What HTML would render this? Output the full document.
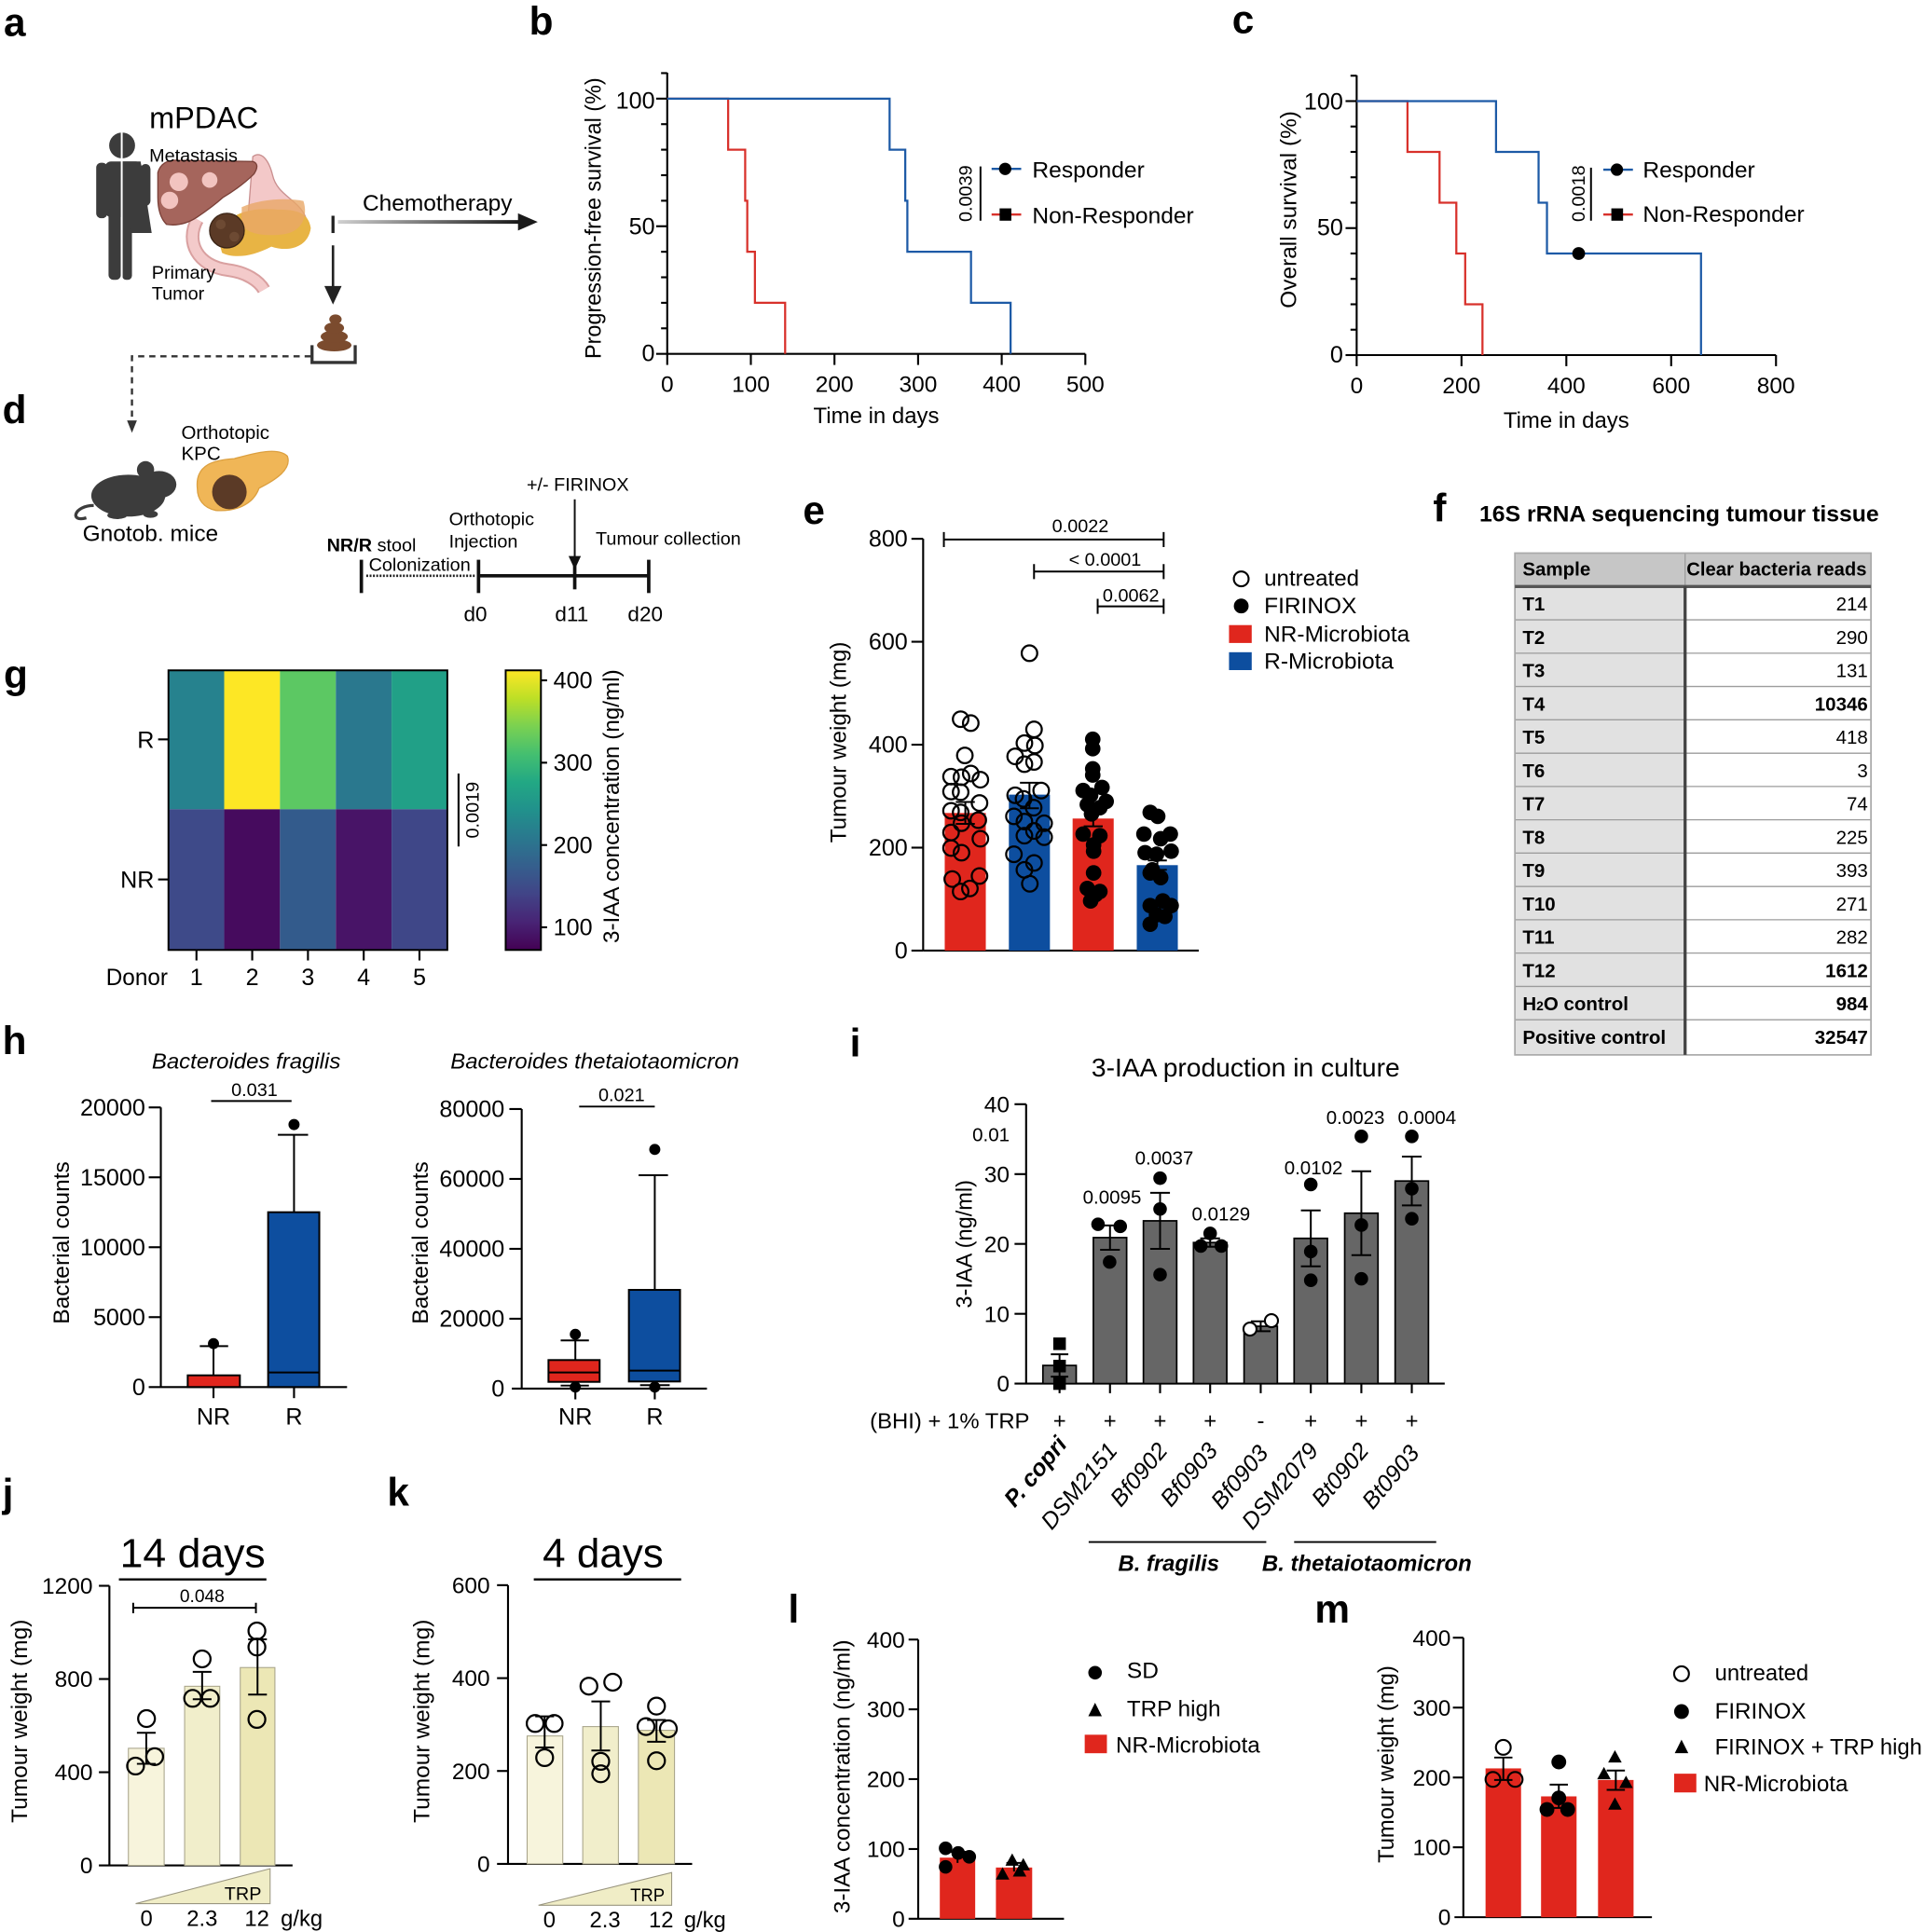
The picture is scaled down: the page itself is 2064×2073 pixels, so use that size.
<!DOCTYPE html>
<html><head><meta charset="utf-8">
<style>
html,body{margin:0;padding:0;background:#fff}
svg{display:block}
text{font-family:"Liberation Sans",Arial,sans-serif;fill:#000}
.lb{font-weight:bold;font-size:32px}
.t{font-size:18.5px}
.b{font-weight:bold}
.i{font-style:italic}
.ax{stroke:#000;stroke-width:1.6;fill:none}
.eb{stroke:#000;stroke-width:1.5;fill:none}
</style></head>
<body>
<svg width="2064" height="2073" viewBox="0 0 1560 1567" preserveAspectRatio="none" xmlns="http://www.w3.org/2000/svg">
<defs>
<linearGradient id="chemo" gradientUnits="userSpaceOnUse" x1="274" y1="0" x2="420" y2="0">
<stop offset="0" stop-color="#d0d0d0"/><stop offset="1" stop-color="#1a1a1a"/>
</linearGradient>
<linearGradient id="vir" x1="0" y1="1" x2="0" y2="0">
<stop offset="0" stop-color="#440154"/><stop offset="0.1" stop-color="#482475"/><stop offset="0.2" stop-color="#414487"/><stop offset="0.3" stop-color="#355f8d"/><stop offset="0.4" stop-color="#2a788e"/><stop offset="0.5" stop-color="#21918c"/><stop offset="0.6" stop-color="#22a884"/><stop offset="0.7" stop-color="#44bf70"/><stop offset="0.8" stop-color="#7ad151"/><stop offset="0.9" stop-color="#bddf26"/><stop offset="1" stop-color="#fde725"/>
</linearGradient>
</defs>
<rect width="1560" height="1567" fill="#fff"/>

<!-- Panel labels -->
<text class="lb" x="3" y="29">a</text>
<text class="lb" x="429" y="28">b</text>
<text class="lb" x="999" y="27">c</text>
<text class="lb" x="2" y="343">d</text>
<text class="lb" x="651" y="425">e</text>
<text class="lb" x="1162" y="423">f</text>
<text class="lb" x="3" y="558">g</text>
<text class="lb" x="2" y="855">h</text>
<text class="lb" x="689" y="857">i</text>
<text class="lb" x="2" y="1222">j</text>
<text class="lb" x="314" y="1221">k</text>
<text class="lb" x="639" y="1316">l</text>
<text class="lb" x="1066" y="1316">m</text>

<!-- ===== Panel a / d illustration ===== -->
<text x="121" y="104" font-size="24.5">mPDAC</text>
<g fill="#3c3c3c">
<circle cx="99" cy="118" r="10.5"/>
<rect x="78" y="132" width="9" height="45" rx="4"/>
<rect x="85" y="131" width="30" height="45" rx="5"/>
<polygon points="99,131 114,131 123,189 99,189"/>
<rect x="114" y="133" width="8" height="34" rx="4"/>
<rect x="88" y="168" width="10" height="59" rx="4"/>
<rect x="99" y="185" width="8" height="42" rx="3.5"/>
</g>
<line x1="98.7" y1="106" x2="98.7" y2="229" stroke="#fff" stroke-width="1.5"/>
<path d="M205,127 C212,122 218,130 221,142 C225,160 245,162 249,180 C251,194 240,198 225,194 L200,190 Z" fill="#f3c8c8" stroke="#c98f8f" stroke-width="1"/>
<path d="M160,178 C150,196 160,216 185,219 C200,221 210,228 214,235" fill="none" stroke="#d9a0a0" stroke-width="11"/>
<path d="M160,178 C150,196 160,216 185,219 C200,221 210,228 214,235" fill="none" stroke="#f3caca" stroke-width="8"/>
<path d="M128,140 Q131,129 145,130 L205,131 Q211,133 206,141 Q196,151 181,160 Q172,168 160,176 Q148,184 135,182 Q128,175 128,160 Z" fill="#a5655c" stroke="#7a4038" stroke-width="1"/>
<circle cx="145" cy="147.5" r="7.5" fill="#f2c4c0"/>
<circle cx="170" cy="146" r="6.3" fill="#f2c4c0"/>
<circle cx="137.5" cy="162.5" r="7" fill="#f2c4c0"/>
<path d="M176,190 C185,172 205,168 225,170 C240,170 250,172 252,185 C250,200 235,205 220,200 C205,208 190,210 180,205 Z" fill="#e8b444"/>
<path d="M196,168 C210,162 230,160 246,163 C250,175 245,188 230,190 C215,192 200,190 196,182 Z" fill="#e9a868" opacity="0.8"/>
<circle cx="184" cy="187" r="14" fill="#5b3a26" stroke="#3a2416" stroke-width="1"/>
<circle cx="179" cy="182" r="4" fill="#6d4a33"/>
<circle cx="190" cy="192" r="4" fill="#6d4a33"/>
<text x="121" y="131" font-size="15">Metastasis</text>
<text x="123" y="226" font-size="15">Primary</text>
<text x="123" y="243" font-size="15">Tumor</text>
<text x="294" y="171" font-size="18.5">Chemotherapy</text>
<rect x="274" y="178.5" width="148" height="3" fill="url(#chemo)"/>
<polygon points="420,173 436,180 420,187" fill="#1a1a1a"/>
<line x1="270" y1="175" x2="270" y2="189" stroke="#222" stroke-width="2.5"/>
<line x1="270" y1="199" x2="270" y2="234" stroke="#222" stroke-width="2"/>
<polygon points="263,232 277,232 270,247" fill="#222"/>
<g fill="#7b4b2e">
<ellipse cx="271" cy="280" rx="14" ry="5"/>
<ellipse cx="271" cy="273" rx="11" ry="5"/>
<ellipse cx="271" cy="266" rx="8" ry="4.5"/>
<ellipse cx="272" cy="259" rx="5" ry="4"/>
</g>
<path d="M253,280 V294 H288 V280" fill="none" stroke="#333" stroke-width="2.5"/>
<path d="M252,289 H107 V341" fill="none" stroke="#333" stroke-width="1.8" stroke-dasharray="5,4"/>
<polygon points="103,341 111,341 107,351" fill="#333"/>
<g fill="#3c3c3c">
<ellipse cx="104" cy="402" rx="30" ry="17"/>
<ellipse cx="129" cy="393" rx="14" ry="11"/>
<circle cx="118" cy="381" r="7"/>
<ellipse cx="95" cy="418" rx="8" ry="3"/>
<ellipse cx="122" cy="417" rx="6" ry="3"/>
</g>
<path d="M76,410 C60,410 56,424 70,420" fill="none" stroke="#3c3c3c" stroke-width="2.5"/>
<path d="M160,396 C158,376 175,373 190,372 C205,368 225,362 233,370 C237,381 222,390 210,396 C205,410 190,415 175,414 C165,412 160,405 160,396 Z" fill="#f0b657" stroke="#dca040" stroke-width="1"/>
<circle cx="186" cy="399" r="14" fill="#5b3a26"/>
<text x="147" y="356" font-size="15.5">Orthotopic</text>
<text x="147" y="373" font-size="15.5">KPC</text>
<text x="67" y="439" font-size="18.5">Gnotob. mice</text>
<text x="265" y="447" font-size="15"><tspan font-weight="bold">NR/R</tspan> stool</text>
<text x="299" y="463" font-size="15">Colonization</text>
<text x="364" y="426" font-size="15">Orthotopic</text>
<text x="364" y="444" font-size="15">Injection</text>
<text x="427" y="398" font-size="15">+/- FIRINOX</text>
<text x="483" y="442" font-size="15">Tumour collection</text>
<line x1="297" y1="467" x2="386" y2="467" stroke="#222" stroke-width="2" stroke-dasharray="1.5,1.2"/>
<line x1="388" y1="467" x2="526" y2="467" stroke="#111" stroke-width="2.8"/>
<g stroke="#111" stroke-width="2.8">
<line x1="293" y1="454" x2="293" y2="481"/>
<line x1="388" y1="454" x2="388" y2="481"/>
<line x1="466" y1="458" x2="466" y2="478"/>
<line x1="526" y1="454" x2="526" y2="481"/>
</g>
<line x1="466" y1="405" x2="466" y2="453" stroke="#111" stroke-width="1.5"/>
<polygon points="461,451 471,451 466,462" fill="#111"/>
<text x="376" y="504" font-size="17">d0</text>
<text x="450" y="504" font-size="17">d11</text>
<text x="509" y="504" font-size="17">d20</text>

<!-- ===== Panel b ===== -->
<g class="ax">
<line x1="541" y1="59" x2="541" y2="287"/>
<line x1="541" y1="287" x2="880" y2="287"/>
<line x1="532" y1="287" x2="541" y2="287"/>
<line x1="536" y1="266.3" x2="541" y2="266.3"/>
<line x1="536" y1="245.6" x2="541" y2="245.6"/>
<line x1="536" y1="224.9" x2="541" y2="224.9"/>
<line x1="536" y1="204.2" x2="541" y2="204.2"/>
<line x1="532" y1="183.5" x2="541" y2="183.5"/>
<line x1="536" y1="162.8" x2="541" y2="162.8"/>
<line x1="536" y1="142.1" x2="541" y2="142.1"/>
<line x1="536" y1="121.4" x2="541" y2="121.4"/>
<line x1="536" y1="100.7" x2="541" y2="100.7"/>
<line x1="532" y1="80" x2="541" y2="80"/>
<line x1="536" y1="59.3" x2="541" y2="59.3"/>
<line x1="541" y1="287" x2="541" y2="296"/>
<line x1="608.8" y1="287" x2="608.8" y2="296"/>
<line x1="676.6" y1="287" x2="676.6" y2="296"/>
<line x1="744.4" y1="287" x2="744.4" y2="296"/>
<line x1="812.2" y1="287" x2="812.2" y2="296"/>
<line x1="880" y1="287" x2="880" y2="296"/>
</g>
<g font-size="19" text-anchor="end">
<text x="531" y="88">100</text><text x="531" y="190">50</text><text x="531" y="293">0</text>
</g>
<g font-size="18.5" text-anchor="middle">
<text x="541" y="318">0</text><text x="608.8" y="318">100</text><text x="676.6" y="318">200</text><text x="744.4" y="318">300</text><text x="812.2" y="318">400</text><text x="880" y="318">500</text>
<text x="710.5" y="343" textLength="102" lengthAdjust="spacingAndGlyphs">Time in days</text>
<text transform="translate(487,177) rotate(-90)" textLength="228" lengthAdjust="spacingAndGlyphs">Progression-free survival (%)</text>
</g>
<path d="M541,80 H590.4 V121.4 H604.2 V162.8 H605.9 V204.2 H612.1 V245.6 H636.6 V287" fill="none" stroke="#d8312b" stroke-width="1.7"/>
<path d="M541,80 H721.3 V121.4 H734 V162.8 H735.7 V204.2 H787.3 V245.6 H819.4 V287" fill="none" stroke="#1d5aa6" stroke-width="1.7"/>
<text transform="translate(788,157) rotate(-90)" font-size="15" text-anchor="middle">0.0039</text>
<line x1="795" y1="135" x2="795" y2="179" stroke="#000" stroke-width="1.5"/>
<line x1="804" y1="137" x2="828" y2="137" stroke="#1d5aa6" stroke-width="1.8"/>
<circle cx="815" cy="137" r="5" fill="#000"/>
<line x1="804" y1="174" x2="828" y2="174" stroke="#d8312b" stroke-width="1.8"/>
<rect x="810.5" y="169" width="9.5" height="10" fill="#000"/>
<text class="t" x="837" y="144" textLength="91" lengthAdjust="spacingAndGlyphs">Responder</text>
<text class="t" x="837" y="181" textLength="131" lengthAdjust="spacingAndGlyphs">Non-Responder</text>

<!-- ===== Panel c ===== -->
<g class="ax">
<line x1="1100" y1="61" x2="1100" y2="288"/>
<line x1="1100" y1="288" x2="1440" y2="288"/>
<line x1="1091" y1="288" x2="1100" y2="288"/>
<line x1="1095" y1="267.4" x2="1100" y2="267.4"/>
<line x1="1095" y1="246.8" x2="1100" y2="246.8"/>
<line x1="1095" y1="226.2" x2="1100" y2="226.2"/>
<line x1="1095" y1="205.6" x2="1100" y2="205.6"/>
<line x1="1091" y1="185" x2="1100" y2="185"/>
<line x1="1095" y1="164.4" x2="1100" y2="164.4"/>
<line x1="1095" y1="143.8" x2="1100" y2="143.8"/>
<line x1="1095" y1="123.2" x2="1100" y2="123.2"/>
<line x1="1095" y1="102.6" x2="1100" y2="102.6"/>
<line x1="1091" y1="82" x2="1100" y2="82"/>
<line x1="1095" y1="61.4" x2="1100" y2="61.4"/>
<line x1="1100" y1="288" x2="1100" y2="297"/>
<line x1="1185" y1="288" x2="1185" y2="297"/>
<line x1="1270" y1="288" x2="1270" y2="297"/>
<line x1="1355" y1="288" x2="1355" y2="297"/>
<line x1="1440" y1="288" x2="1440" y2="297"/>
</g>
<g font-size="19" text-anchor="end">
<text x="1089" y="89">100</text><text x="1089" y="191">50</text><text x="1089" y="294">0</text>
</g>
<g font-size="18.5" text-anchor="middle">
<text x="1100" y="319">0</text><text x="1185" y="319">200</text><text x="1270" y="319">400</text><text x="1355" y="319">600</text><text x="1440" y="319">800</text>
<text x="1270" y="347" textLength="102" lengthAdjust="spacingAndGlyphs">Time in days</text>
<text transform="translate(1051,170) rotate(-90)" textLength="160" lengthAdjust="spacingAndGlyphs">Overall survival (%)</text>
</g>
<path d="M1100,82 H1141.2 V123.2 H1167.2 V164.4 H1180.8 V205.6 H1188 V246.8 H1202 V288" fill="none" stroke="#d8312b" stroke-width="1.7"/>
<path d="M1100,82 H1213 V123.2 H1247.5 V164.4 H1254.3 V205.6 H1379.2 V288" fill="none" stroke="#1d5aa6" stroke-width="1.7"/>
<circle cx="1280" cy="205.6" r="5.2" fill="#000"/>
<text transform="translate(1285,157) rotate(-90)" font-size="15" text-anchor="middle">0.0018</text>
<line x1="1290" y1="136" x2="1290" y2="179" stroke="#000" stroke-width="1.5"/>
<line x1="1300" y1="137.6" x2="1324" y2="137.6" stroke="#1d5aa6" stroke-width="1.8"/>
<circle cx="1311" cy="137.6" r="5" fill="#000"/>
<line x1="1300" y1="174" x2="1324" y2="174" stroke="#d8312b" stroke-width="1.8"/>
<rect x="1306.5" y="169" width="9.5" height="10" fill="#000"/>
<text class="t" x="1332" y="144" textLength="91" lengthAdjust="spacingAndGlyphs">Responder</text>
<text class="t" x="1332" y="180" textLength="131" lengthAdjust="spacingAndGlyphs">Non-Responder</text>

<!-- ===== Panel e ===== -->
<g class="ax">
<line x1="748.5" y1="437" x2="748.5" y2="771"/>
<line x1="748.5" y1="771" x2="972" y2="771"/>
<line x1="739" y1="437" x2="748.5" y2="437"/>
<line x1="739" y1="520.5" x2="748.5" y2="520.5"/>
<line x1="739" y1="604" x2="748.5" y2="604"/>
<line x1="739" y1="687.5" x2="748.5" y2="687.5"/>
<line x1="739" y1="771" x2="748.5" y2="771"/>
</g>
<g font-size="19" text-anchor="end">
<text x="736" y="443.5">800</text><text x="736" y="527">600</text><text x="736" y="610.5">400</text><text x="736" y="694">200</text><text x="736" y="777.5">0</text>
</g>
<text transform="translate(686,602) rotate(-90)" class="t" text-anchor="middle" textLength="163" lengthAdjust="spacingAndGlyphs">Tumour weight (mg)</text>
<rect x="766" y="659.4" width="33.3" height="111.6" fill="#e0261d"/>
<rect x="818" y="644.5" width="33.3" height="126.5" fill="#0d4e9f"/>
<rect x="869.7" y="663.9" width="33.3" height="107.1" fill="#e0261d"/>
<rect x="921.7" y="701.7" width="33.3" height="69.3" fill="#0d4e9f"/>
<g class="eb">
<path d="M782.7,650.5 V668.2 M775,650.5 H790.4 M775,668.2 H790.4"/>
<path d="M834.7,634.9 V655.6 M827,634.9 H842.4 M827,655.6 H842.4"/>
<path d="M886.4,656.3 V670.2 M878.7,656.3 H894.1 M878.7,670.2 H894.1"/>
<path d="M938.4,697.9 V705.5 M930.7,697.9 H946.1 M930.7,705.5 H946.1"/>
</g>
<g fill="none" stroke="#000" stroke-width="1.7">
<circle cx="778.9" cy="583.3" r="6.3"/><circle cx="787.1" cy="586.5" r="6.3"/><circle cx="782.3" cy="612.7" r="6.3"/><circle cx="771.1" cy="629.9" r="6.3"/><circle cx="787.1" cy="627.4" r="6.3"/><circle cx="794.9" cy="632.4" r="6.3"/><circle cx="779.6" cy="630.4" r="6.3"/><circle cx="771.1" cy="642" r="6.3"/><circle cx="778.9" cy="642.5" r="6.3"/><circle cx="794.2" cy="651.3" r="6.3"/><circle cx="771.1" cy="657.6" r="6.3"/><circle cx="778.9" cy="658.9" r="6.3"/><circle cx="793.2" cy="665.2" r="6.3"/><circle cx="779.6" cy="667.7" r="6.3"/><circle cx="771.1" cy="675.2" r="6.3"/><circle cx="794.9" cy="680.3" r="6.3"/><circle cx="779.6" cy="691.6" r="6.3"/><circle cx="771.1" cy="687.8" r="6.3"/><circle cx="772.1" cy="713" r="6.3"/><circle cx="794.2" cy="710.5" r="6.3"/><circle cx="778.9" cy="723.1" r="6.3"/><circle cx="786.4" cy="720.6" r="6.3"/>
<circle cx="834.7" cy="529.8" r="6.3"/><circle cx="838.4" cy="591.6" r="6.3"/><circle cx="830.6" cy="602.7" r="6.3"/><circle cx="839.1" cy="604.7" r="6.3"/><circle cx="823.1" cy="613.5" r="6.3"/><circle cx="830.6" cy="619.8" r="6.3"/><circle cx="838.4" cy="618" r="6.3"/><circle cx="823.1" cy="645" r="6.3"/><circle cx="844.2" cy="641.2" r="6.3"/><circle cx="829.9" cy="648" r="6.3"/><circle cx="822.1" cy="662.1" r="6.3"/><circle cx="838.1" cy="655.1" r="6.3"/><circle cx="830.6" cy="666.4" r="6.3"/><circle cx="846.6" cy="667.7" r="6.3"/><circle cx="838.4" cy="674" r="6.3"/><circle cx="830.6" cy="677.8" r="6.3"/><circle cx="846.6" cy="679" r="6.3"/><circle cx="822.1" cy="692.9" r="6.3"/><circle cx="838.4" cy="699.9" r="6.3"/><circle cx="830.6" cy="705.5" r="6.3"/><circle cx="835" cy="716.8" r="6.3"/>
</g>
<g fill="#000">
<circle cx="886" cy="599.6" r="6.3"/><circle cx="886" cy="607.2" r="6.3"/><circle cx="886" cy="623.6" r="6.3"/><circle cx="886" cy="628.6" r="6.3"/><circle cx="878.2" cy="641.2" r="6.3"/><circle cx="893.5" cy="638.7" r="6.3"/><circle cx="884.3" cy="645" r="6.3"/><circle cx="896.9" cy="650" r="6.3"/><circle cx="881.6" cy="652.6" r="6.3"/><circle cx="891.8" cy="655.1" r="6.3"/><circle cx="885" cy="660.1" r="6.3"/><circle cx="878.2" cy="676.5" r="6.3"/><circle cx="891.8" cy="677.8" r="6.3"/><circle cx="886.7" cy="685.3" r="6.3"/><circle cx="886.7" cy="690.4" r="6.3"/><circle cx="886.7" cy="708" r="6.3"/><circle cx="881.6" cy="720.6" r="6.3"/><circle cx="891.8" cy="723.1" r="6.3"/><circle cx="884.3" cy="730.7" r="6.3"/><circle cx="888.4" cy="725.6" r="6.3"/>
<circle cx="932.6" cy="658.9" r="6.3"/><circle cx="938.7" cy="662.1" r="6.3"/><circle cx="927.5" cy="676.5" r="6.3"/><circle cx="941.1" cy="680.3" r="6.3"/><circle cx="948.9" cy="676.5" r="6.3"/><circle cx="928.5" cy="691.6" r="6.3"/><circle cx="937.7" cy="692.9" r="6.3"/><circle cx="949.6" cy="690.4" r="6.3"/><circle cx="934.3" cy="705.5" r="6.3"/><circle cx="941.1" cy="711.8" r="6.3"/><circle cx="932.6" cy="708" r="6.3"/><circle cx="932.6" cy="734.5" r="6.3"/><circle cx="942.8" cy="730.7" r="6.3"/><circle cx="949.6" cy="734.5" r="6.3"/><circle cx="937.7" cy="742" r="6.3"/><circle cx="944.5" cy="743.3" r="6.3"/><circle cx="932.6" cy="749.6" r="6.3"/>
</g>
<g class="eb">
<path d="M765.3,437.6 H943.5 M765.3,431.5 V443.7 M943.5,431.5 V443.7"/>
<path d="M838.4,463.6 H943.5 M838.4,457.5 V469.7 M943.5,457.5 V469.7"/>
<path d="M890,491.8 H943.5 M890,485.7 V497.9 M943.5,485.7 V497.9"/>
</g>
<g font-size="15" text-anchor="middle">
<text x="876" y="431.5">0.0022</text>
<text x="896" y="459">&lt; 0.0001</text>
<text x="917" y="488">0.0062</text>
</g>
<circle cx="1006.4" cy="469.5" r="6" fill="none" stroke="#000" stroke-width="1.6"/>
<circle cx="1006.4" cy="491.5" r="6" fill="#000"/>
<rect x="996.5" y="507" width="18.4" height="14.5" fill="#e0261d"/>
<rect x="996.5" y="529" width="18.4" height="14.5" fill="#0d4e9f"/>
<text x="1025" y="475" font-size="18" textLength="77" lengthAdjust="spacingAndGlyphs">untreated</text>
<text x="1025" y="497.5" font-size="18" textLength="75" lengthAdjust="spacingAndGlyphs">FIRINOX</text>
<text x="1025" y="520.5" font-size="18" textLength="118" lengthAdjust="spacingAndGlyphs">NR-Microbiota</text>
<text x="1025" y="542.5" font-size="18" textLength="105" lengthAdjust="spacingAndGlyphs">R-Microbiota</text>

<!-- ===== Panel f table ===== -->
<text x="1199.5" y="423" font-size="18.5" font-weight="bold" textLength="324" lengthAdjust="spacingAndGlyphs">16S rRNA sequencing tumour tissue</text>
<rect x="1228.3" y="448.6" width="288.7" height="27.1" fill="#c6c6c6"/>
<rect x="1228.3" y="475.7" width="138" height="379.9" fill="#e1e1e1"/>
<rect x="1366.3" y="475.7" width="150.7" height="379.9" fill="#fff"/>
<g stroke="#9c9c9c" stroke-width="1">
<line x1="1228.3" y1="502.7" x2="1517" y2="502.7"/>
<line x1="1228.3" y1="529.8" x2="1517" y2="529.8"/>
<line x1="1228.3" y1="556.8" x2="1517" y2="556.8"/>
<line x1="1228.3" y1="583.8" x2="1517" y2="583.8"/>
<line x1="1228.3" y1="610.9" x2="1517" y2="610.9"/>
<line x1="1228.3" y1="637.9" x2="1517" y2="637.9"/>
<line x1="1228.3" y1="664.9" x2="1517" y2="664.9"/>
<line x1="1228.3" y1="691.9" x2="1517" y2="691.9"/>
<line x1="1228.3" y1="719" x2="1517" y2="719"/>
<line x1="1228.3" y1="746" x2="1517" y2="746"/>
<line x1="1228.3" y1="773" x2="1517" y2="773"/>
<line x1="1228.3" y1="800.1" x2="1517" y2="800.1"/>
<line x1="1228.3" y1="827.1" x2="1517" y2="827.1"/>
<line x1="1366.3" y1="448.6" x2="1366.3" y2="475.7"/>
</g>
<rect x="1228.3" y="448.6" width="288.7" height="407" fill="none" stroke="#aaa" stroke-width="1.3"/>
<line x1="1228.3" y1="475.7" x2="1517" y2="475.7" stroke="#555" stroke-width="2.5"/>
<line x1="1366.3" y1="475.7" x2="1366.3" y2="855.6" stroke="#444" stroke-width="2.5"/>
<g font-size="15.5" font-weight="bold">
<text x="1234.5" y="466.7">Sample</text>
<text x="1367.5" y="466.7" textLength="146" lengthAdjust="spacingAndGlyphs">Clear bacteria reads</text>
<text x="1234.5" y="495.2">T1</text>
<text x="1234.5" y="522.2">T2</text>
<text x="1234.5" y="549.3">T3</text>
<text x="1234.5" y="576.3">T4</text>
<text x="1234.5" y="603.3">T5</text>
<text x="1234.5" y="630.4">T6</text>
<text x="1234.5" y="657.4">T7</text>
<text x="1234.5" y="684.4">T8</text>
<text x="1234.5" y="711.4">T9</text>
<text x="1234.5" y="738.5">T10</text>
<text x="1234.5" y="765.5">T11</text>
<text x="1234.5" y="792.5">T12</text>
<text x="1234.5" y="819.6">H<tspan font-size="10.5">2</tspan>O control</text>
<text x="1234.5" y="846.6">Positive control</text>
</g>
<g font-size="15.5" text-anchor="end">
<text x="1514.5" y="495.2">214</text>
<text x="1514.5" y="522.2">290</text>
<text x="1514.5" y="549.3">131</text>
<text x="1514.5" y="576.3" font-weight="bold">10346</text>
<text x="1514.5" y="603.3">418</text>
<text x="1514.5" y="630.4">3</text>
<text x="1514.5" y="657.4">74</text>
<text x="1514.5" y="684.4">225</text>
<text x="1514.5" y="711.4">393</text>
<text x="1514.5" y="738.5">271</text>
<text x="1514.5" y="765.5">282</text>
<text x="1514.5" y="792.5" font-weight="bold">1612</text>
<text x="1514.5" y="819.6" font-weight="bold">984</text>
<text x="1514.5" y="846.6" font-weight="bold">32547</text>
</g>

<!-- ===== Panel g heatmap ===== -->
<rect x="136.6" y="543.7" width="45.2" height="112.7" fill="#26828e"/>
<rect x="181.8" y="543.7" width="45.2" height="112.7" fill="#fde725"/>
<rect x="227" y="543.7" width="45.3" height="112.7" fill="#5cc863"/>
<rect x="272.3" y="543.7" width="45.2" height="112.7" fill="#2a788e"/>
<rect x="317.5" y="543.7" width="45.2" height="112.7" fill="#21a087"/>
<rect x="136.6" y="656.4" width="45.2" height="114.1" fill="#3e4a89"/>
<rect x="181.8" y="656.4" width="45.2" height="114.1" fill="#460b5e"/>
<rect x="227" y="656.4" width="45.3" height="114.1" fill="#335b8c"/>
<rect x="272.3" y="656.4" width="45.2" height="114.1" fill="#481467"/>
<rect x="317.5" y="656.4" width="45.2" height="114.1" fill="#3f4788"/>
<rect x="136.6" y="543.7" width="226.1" height="226.8" fill="none" stroke="#000" stroke-width="1.5"/>
<g class="ax">
<line x1="128.2" y1="599.7" x2="136.6" y2="599.7"/>
<line x1="128.2" y1="713.3" x2="136.6" y2="713.3"/>
<line x1="159.3" y1="770.5" x2="159.3" y2="779"/>
<line x1="204.5" y1="770.5" x2="204.5" y2="779"/>
<line x1="249.7" y1="770.5" x2="249.7" y2="779"/>
<line x1="294.9" y1="770.5" x2="294.9" y2="779"/>
<line x1="340.1" y1="770.5" x2="340.1" y2="779"/>
<line x1="371.8" y1="627.4" x2="371.8" y2="686.6"/>
</g>
<g font-size="19">
<text x="125" y="606.5" text-anchor="end">R</text>
<text x="125" y="720" text-anchor="end">NR</text>
<text x="136" y="799" text-anchor="end" textLength="50" lengthAdjust="spacingAndGlyphs">Donor</text>
<text x="159.3" y="799" text-anchor="middle">1</text>
<text x="204.5" y="799" text-anchor="middle">2</text>
<text x="249.7" y="799" text-anchor="middle">3</text>
<text x="294.9" y="799" text-anchor="middle">4</text>
<text x="340.1" y="799" text-anchor="middle">5</text>
</g>
<text transform="translate(388,657) rotate(-90)" font-size="15" text-anchor="middle">0.0019</text>
<rect x="410" y="543.7" width="28.6" height="226.8" fill="url(#vir)" stroke="#000" stroke-width="1.5"/>
<g class="ax">
<line x1="438.6" y1="551.8" x2="443.6" y2="551.8"/>
<line x1="438.6" y1="618.6" x2="443.6" y2="618.6"/>
<line x1="438.6" y1="685.4" x2="443.6" y2="685.4"/>
<line x1="438.6" y1="752.1" x2="443.6" y2="752.1"/>
</g>
<g font-size="19">
<text x="448.7" y="558.3">400</text>
<text x="448.7" y="625.1">300</text>
<text x="448.7" y="691.9">200</text>
<text x="448.7" y="758.6">100</text>
</g>
<text transform="translate(502,654) rotate(-90)" class="t" text-anchor="middle" textLength="222" lengthAdjust="spacingAndGlyphs">3-IAA concentration (ng/ml)</text>

<!-- ===== Panel h ===== -->
<g class="ax">
<line x1="130.4" y1="898.2" x2="130.4" y2="1125"/>
<line x1="120.6" y1="1125" x2="281.4" y2="1125"/>
<line x1="120.6" y1="898.2" x2="130.4" y2="898.2"/>
<line x1="120.6" y1="954.9" x2="130.4" y2="954.9"/>
<line x1="120.6" y1="1011.6" x2="130.4" y2="1011.6"/>
<line x1="120.6" y1="1068.3" x2="130.4" y2="1068.3"/>
<line x1="173.1" y1="1125" x2="173.1" y2="1134"/>
<line x1="238.4" y1="1125" x2="238.4" y2="1134"/>
</g>
<g font-size="19" text-anchor="end">
<text x="117.8" y="904.7">20000</text><text x="117.8" y="961.4">15000</text><text x="117.8" y="1018.1">10000</text><text x="117.8" y="1074.8">5000</text><text x="117.8" y="1131.5">0</text>
</g>
<rect x="152.2" y="1115.5" width="42.3" height="9.5" fill="#e0261d" stroke="#000" stroke-width="1.5"/>
<path class="eb" d="M173.1,1115.5 V1091.8 M162,1091.8 H185"/>
<circle cx="173.1" cy="1089.8" r="4.5" fill="#000"/>
<rect x="217.4" y="983.2" width="41.5" height="141.8" fill="#0d4e9f" stroke="#000" stroke-width="1.5"/>
<path class="eb" d="M217.4,1113.2 H258.9 M238.4,983.2 V920.4 M225.3,920.4 H249.8"/>
<circle cx="238.4" cy="912.1" r="4.5" fill="#000"/>
<g font-size="19" text-anchor="middle">
<text x="173.1" y="1155.5">NR</text><text x="238.4" y="1155.5">R</text>
</g>
<text x="199.6" y="866.7" font-size="17.5" class="i" text-anchor="middle" textLength="153" lengthAdjust="spacingAndGlyphs">Bacteroides fragilis</text>
<text x="206.3" y="888.9" font-size="15" text-anchor="middle">0.031</text>
<line x1="171.2" y1="893" x2="236.4" y2="893" stroke="#000" stroke-width="1.5"/>
<text transform="translate(56,1008) rotate(-90)" class="t" text-anchor="middle" textLength="132" lengthAdjust="spacingAndGlyphs">Bacterial counts</text>

<g class="ax">
<line x1="423" y1="899.5" x2="423" y2="1126.3"/>
<line x1="415" y1="1126.3" x2="573.2" y2="1126.3"/>
<line x1="413" y1="899.5" x2="423" y2="899.5"/>
<line x1="413" y1="956.2" x2="423" y2="956.2"/>
<line x1="413" y1="1012.9" x2="423" y2="1012.9"/>
<line x1="413" y1="1069.6" x2="423" y2="1069.6"/>
<line x1="466.5" y1="1126.3" x2="466.5" y2="1135"/>
<line x1="530.9" y1="1126.3" x2="530.9" y2="1135"/>
</g>
<g font-size="19" text-anchor="end">
<text x="409.1" y="906">80000</text><text x="409.1" y="962.7">60000</text><text x="409.1" y="1019.4">40000</text><text x="409.1" y="1076.1">20000</text><text x="409.1" y="1132.8">0</text>
</g>
<rect x="444.7" y="1103.1" width="41.5" height="17.7" fill="#e0261d" stroke="#000" stroke-width="1.5"/>
<path class="eb" d="M444.7,1113.2 H486.2 M466.5,1103.1 V1087.2 M454.6,1087.2 H477.5 M466.5,1120.8 V1123.8 M454.6,1123.8 H477.5"/>
<circle cx="466.5" cy="1082.2" r="4.5" fill="#000"/>
<circle cx="466.5" cy="1125" r="4.5" fill="#000"/>
<rect x="509.9" y="1046.2" width="41.5" height="74.3" fill="#0d4e9f" stroke="#000" stroke-width="1.5"/>
<path class="eb" d="M509.9,1111.7 H551.4 M530.9,1046.2 V953.2 M517.8,953.2 H541.6 M530.9,1120.5 V1123.5 M519,1123.5 H543"/>
<circle cx="530.9" cy="932.3" r="4.5" fill="#000"/>
<circle cx="530.9" cy="1125" r="4.5" fill="#000"/>
<g font-size="19" text-anchor="middle">
<text x="466.5" y="1155.5">NR</text><text x="530.9" y="1155.5">R</text>
</g>
<text x="482.3" y="866.7" font-size="17.5" class="i" text-anchor="middle" textLength="234" lengthAdjust="spacingAndGlyphs">Bacteroides thetaiotaomicron</text>
<text x="504" y="893.2" font-size="15" text-anchor="middle">0.021</text>
<line x1="469.6" y1="897.5" x2="530.9" y2="897.5" stroke="#000" stroke-width="1.5"/>
<text transform="translate(347,1008) rotate(-90)" class="t" text-anchor="middle" textLength="132" lengthAdjust="spacingAndGlyphs">Bacterial counts</text>

<!-- ===== Panel i ===== -->
<text x="1010" y="873" font-size="21" text-anchor="middle" textLength="250" lengthAdjust="spacingAndGlyphs">3-IAA production in culture</text>
<g class="ax">
<line x1="832" y1="895.6" x2="832" y2="1122.2"/>
<line x1="822.6" y1="1122.2" x2="1171.4" y2="1122.2"/>
<line x1="822.6" y1="895.6" x2="832" y2="895.6"/>
<line x1="822.6" y1="952.3" x2="832" y2="952.3"/>
<line x1="822.6" y1="1008.9" x2="832" y2="1008.9"/>
<line x1="822.6" y1="1065.6" x2="832" y2="1065.6"/>
<line x1="859.1" y1="1122.2" x2="859.1" y2="1130"/>
<line x1="900" y1="1122.2" x2="900" y2="1130"/>
<line x1="940.6" y1="1122.2" x2="940.6" y2="1130"/>
<line x1="981.2" y1="1122.2" x2="981.2" y2="1130"/>
<line x1="1022.2" y1="1122.2" x2="1022.2" y2="1130"/>
<line x1="1062.8" y1="1122.2" x2="1062.8" y2="1130"/>
<line x1="1103.8" y1="1122.2" x2="1103.8" y2="1130"/>
<line x1="1144.7" y1="1122.2" x2="1144.7" y2="1130"/>
</g>
<g font-size="18.5" text-anchor="end">
<text x="818.5" y="902.1">40</text><text x="818.5" y="958.8">30</text><text x="818.5" y="1015.4">20</text><text x="818.5" y="1072.1">10</text><text x="818.5" y="1128.7">0</text>
</g>
<text x="803.5" y="925.5" font-size="15.5" text-anchor="middle">0.01</text>
<text transform="translate(788,1009) rotate(-90)" class="t" text-anchor="middle" textLength="104" lengthAdjust="spacingAndGlyphs">3-IAA (ng/ml)</text>
<g fill="#666" stroke="#000" stroke-width="1.3">
<rect x="845.6" y="1107.5" width="27" height="14.7"/>
<rect x="886.5" y="1003.8" width="27" height="118.4"/>
<rect x="927.1" y="990.2" width="27" height="132"/>
<rect x="967.7" y="1007.8" width="27" height="114.4"/>
<rect x="1008.7" y="1075.7" width="27" height="46.5"/>
<rect x="1049.3" y="1004.4" width="27" height="117.8"/>
<rect x="1090.3" y="984" width="27" height="138.2"/>
<rect x="1131.2" y="957.9" width="27" height="164.3"/>
</g>
<g class="eb">
<path d="M859.1,1098.4 V1116.6 M852,1098.4 H866.2 M852,1116.6 H866.2"/>
<path d="M900,993.9 V1013.7 M892,993.9 H908 M892,1013.7 H908"/>
<path d="M940.6,967.5 V1012.9 M932.6,967.5 H948.6 M932.6,1012.9 H948.6"/>
<path d="M981.2,1004.4 V1011.2 M973.2,1004.4 H989.2 M973.2,1011.2 H989.2"/>
<path d="M1022.2,1071.7 V1079.7 M1014.2,1071.7 H1030.2 M1014.2,1079.7 H1030.2"/>
<path d="M1062.8,981.7 V1027.1 M1054.8,981.7 H1070.8 M1054.8,1027.1 H1070.8"/>
<path d="M1103.8,950 V1018 M1095.8,950 H1111.8 M1095.8,1018 H1111.8"/>
<path d="M1144.7,938.1 V977.7 M1136.7,938.1 H1152.7 M1136.7,977.7 H1152.7"/>
</g>
<g fill="#000">
<rect x="854" y="1084.8" width="10.2" height="10.2"/>
<rect x="854" y="1102.9" width="10.2" height="10.2"/>
<rect x="854" y="1117.1" width="10.2" height="10.2"/>
<circle cx="890.3" cy="993" r="5.5"/><circle cx="908.3" cy="994.7" r="5.5"/><circle cx="899.7" cy="1023.6" r="5.5"/>
<circle cx="940.6" cy="955.6" r="5.5"/><circle cx="940.6" cy="980.6" r="5.5"/><circle cx="940.6" cy="1033.8" r="5.5"/>
<circle cx="973.6" cy="1010.6" r="5.5"/><circle cx="981.2" cy="1000.4" r="5.5"/><circle cx="990.3" cy="1010.6" r="5.5"/>
<circle cx="1062.8" cy="960.7" r="5.5"/><circle cx="1062.8" cy="1015.1" r="5.5"/><circle cx="1062.8" cy="1038.4" r="5.5"/>
<circle cx="1103.8" cy="921.7" r="5.5"/><circle cx="1103.8" cy="993.6" r="5.5"/><circle cx="1103.8" cy="1037.2" r="5.5"/>
<circle cx="1144.7" cy="921.7" r="5.5"/><circle cx="1144.7" cy="964.1" r="5.5"/><circle cx="1144.7" cy="988.5" r="5.5"/>
</g>
<g fill="#fff" stroke="#000" stroke-width="1.6">
<circle cx="1013.5" cy="1078" r="5.3"/><circle cx="1030.9" cy="1071.2" r="5.3"/>
</g>
<g font-size="15.5" text-anchor="middle">
<text x="901.7" y="976.3">0.0095</text>
<text x="944" y="944.4">0.0037</text>
<text x="990" y="989.8">0.0129</text>
<text x="1065" y="952.4">0.0102</text>
<text x="1099" y="911.5">0.0023</text>
<text x="1157" y="911.5">0.0004</text>
</g>
<text x="834.8" y="1158.5" font-size="17.5" text-anchor="end" textLength="129.5" lengthAdjust="spacingAndGlyphs">(BHI) + 1% TRP</text>
<g font-size="18" text-anchor="middle">
<text x="859.1" y="1158.5">+</text><text x="900" y="1158.5">+</text><text x="940.6" y="1158.5">+</text><text x="981.2" y="1158.5">+</text><text x="1022.2" y="1158.5">-</text><text x="1062.8" y="1158.5">+</text><text x="1103.8" y="1158.5">+</text><text x="1144.7" y="1158.5">+</text>
</g>
<g font-size="19" font-style="italic" text-anchor="end">
<text transform="translate(866,1172) rotate(-50)" font-weight="bold">P. copri</text>
<text transform="translate(907,1177) rotate(-50)">DSM2151</text>
<text transform="translate(947.6,1177) rotate(-50)">Bf0902</text>
<text transform="translate(988.2,1177) rotate(-50)">Bf0903</text>
<text transform="translate(1029.2,1179) rotate(-50)">Bf0903</text>
<text transform="translate(1069.8,1177) rotate(-50)">DSM2079</text>
<text transform="translate(1110.8,1177) rotate(-50)">Bt0902</text>
<text transform="translate(1151.7,1179) rotate(-50)">Bt0903</text>
</g>
<line x1="882.7" y1="1250.7" x2="1026.7" y2="1250.7" stroke="#000" stroke-width="1.5"/>
<line x1="1049.3" y1="1250.7" x2="1164.5" y2="1250.7" stroke="#000" stroke-width="1.5"/>
<text x="947.6" y="1274" font-size="18" font-weight="bold" font-style="italic" text-anchor="middle">B. fragilis</text>
<text x="1108.3" y="1274" font-size="18" font-weight="bold" font-style="italic" text-anchor="middle" textLength="170" lengthAdjust="spacingAndGlyphs">B. thetaiotaomicron</text>

<!-- ===== Panel j ===== -->
<text x="156.2" y="1271" font-size="33" text-anchor="middle" textLength="118" lengthAdjust="spacingAndGlyphs">14 days</text>
<line x1="96.4" y1="1281" x2="216" y2="1281" stroke="#000" stroke-width="1.8"/>
<g class="ax">
<line x1="88.7" y1="1286.2" x2="88.7" y2="1513"/>
<line x1="80.2" y1="1513" x2="237.2" y2="1513"/>
<line x1="80.2" y1="1286.2" x2="88.7" y2="1286.2"/>
<line x1="80.2" y1="1361.8" x2="88.7" y2="1361.8"/>
<line x1="80.2" y1="1437.4" x2="88.7" y2="1437.4"/>
</g>
<g font-size="18.5" text-anchor="end">
<text x="75.2" y="1292.7">1200</text><text x="75.2" y="1368.3">800</text><text x="75.2" y="1443.9">400</text><text x="75.2" y="1519.5">0</text>
</g>
<text transform="translate(22,1396) rotate(-90)" class="t" text-anchor="middle" textLength="165" lengthAdjust="spacingAndGlyphs">Tumour weight (mg)</text>
<g stroke="#a8a48a" stroke-width="0.8">
<rect x="104.1" y="1418" width="29" height="95" fill="#f7f4dc"/>
<rect x="149.7" y="1367.7" width="28.5" height="145.3" fill="#f1eecb"/>
<rect x="194.8" y="1352.5" width="28.1" height="160.5" fill="#ece7b5"/>
</g>
<g class="eb">
<path d="M118.6,1405.4 V1430.6 M111,1405.4 H126.2 M111,1430.6 H126.2"/>
<path d="M163.9,1356 V1378.2 M156.3,1356 H171.5 M156.3,1378.2 H171.5"/>
<path d="M208.8,1329.6 V1374.4 M201.2,1329.6 H216.4 M201.2,1374.4 H216.4"/>
<path d="M108,1304 H207.5 M108,1300 V1308.5 M207.5,1300 V1308.5"/>
</g>
<text x="163.9" y="1299.5" font-size="14.5" text-anchor="middle">0.048</text>
<g fill="none" stroke="#000" stroke-width="1.7">
<circle cx="118.8" cy="1393.9" r="6.8"/><circle cx="109.9" cy="1432.4" r="6.8"/><circle cx="125.4" cy="1424.8" r="6.8"/>
<circle cx="163.9" cy="1345.5" r="6.8"/><circle cx="156.2" cy="1377.5" r="6.8"/><circle cx="170.5" cy="1377.5" r="6.8"/>
<circle cx="208.3" cy="1322.8" r="6.8"/><circle cx="208.3" cy="1335.9" r="6.8"/><circle cx="208.3" cy="1394.6" r="6.8"/>
</g>
<polygon points="110,1544 219,1515.6 219,1544" fill="#f0edc6" stroke="#9a9680" stroke-width="0.8"/>
<text x="182" y="1541" font-size="15" textLength="30" lengthAdjust="spacingAndGlyphs">TRP</text>
<g font-size="18" text-anchor="middle">
<text x="118.8" y="1562">0</text><text x="163.9" y="1562">2.3</text><text x="208.3" y="1562">12</text>
</g>
<text x="227.6" y="1562" font-size="18">g/kg</text>

<!-- ===== Panel k ===== -->
<text x="489" y="1271" font-size="33" text-anchor="middle" textLength="98" lengthAdjust="spacingAndGlyphs">4 days</text>
<line x1="432.8" y1="1281" x2="552.3" y2="1281" stroke="#000" stroke-width="1.8"/>
<g class="ax">
<line x1="411.9" y1="1285.7" x2="411.9" y2="1511.8"/>
<line x1="403" y1="1511.8" x2="561.2" y2="1511.8"/>
<line x1="403" y1="1285.7" x2="411.9" y2="1285.7"/>
<line x1="403" y1="1361.1" x2="411.9" y2="1361.1"/>
<line x1="403" y1="1436.4" x2="411.9" y2="1436.4"/>
</g>
<g font-size="18.5" text-anchor="end">
<text x="397.3" y="1292.2">600</text><text x="397.3" y="1367.6">400</text><text x="397.3" y="1442.9">200</text><text x="397.3" y="1518.3">0</text>
</g>
<text transform="translate(348,1396) rotate(-90)" class="t" text-anchor="middle" textLength="165" lengthAdjust="spacingAndGlyphs">Tumour weight (mg)</text>
<g stroke="#a8a48a" stroke-width="0.8">
<rect x="427.4" y="1408" width="28.9" height="103.8" fill="#f7f4dc"/>
<rect x="472.5" y="1400.4" width="28.9" height="111.4" fill="#f1eecb"/>
<rect x="517.6" y="1403.4" width="29.3" height="108.4" fill="#ece7b5"/>
</g>
<g class="eb">
<path d="M441.6,1392.1 V1417.3 M434,1392.1 H449.2 M434,1417.3 H449.2"/>
<path d="M487.1,1380 V1419.8 M479.5,1380 H494.7 M479.5,1419.8 H494.7"/>
<path d="M532.3,1395 V1412.7 M524.7,1395 H539.9 M524.7,1412.7 H539.9"/>
</g>
<g fill="none" stroke="#000" stroke-width="1.7">
<circle cx="433.9" cy="1397.9" r="6.8"/><circle cx="449.3" cy="1397.9" r="6.8"/><circle cx="441.6" cy="1425.6" r="6.8"/>
<circle cx="477.5" cy="1367.6" r="6.8"/><circle cx="496.8" cy="1364.4" r="6.8"/><circle cx="487.1" cy="1428.6" r="6.8"/><circle cx="487.1" cy="1438.7" r="6.8"/>
<circle cx="532.3" cy="1383.8" r="6.8"/><circle cx="523.8" cy="1400.4" r="6.8"/><circle cx="541.9" cy="1402.2" r="6.8"/><circle cx="532.3" cy="1428.1" r="6.8"/>
</g>
<polygon points="436.6,1545.3 544.6,1518.8 544.6,1545.3" fill="#f0edc6" stroke="#9a9680" stroke-width="0.8"/>
<text x="511" y="1542" font-size="15" textLength="28" lengthAdjust="spacingAndGlyphs">TRP</text>
<g font-size="18" text-anchor="middle">
<text x="445.5" y="1563.4">0</text><text x="490.6" y="1563.4">2.3</text><text x="536.1" y="1563.4">12</text>
</g>
<text x="554.6" y="1563.4" font-size="18">g/kg</text>

<!-- ===== Panel l ===== -->
<g class="ax">
<line x1="744.5" y1="1329.8" x2="744.5" y2="1556.3"/>
<line x1="736.7" y1="1556.3" x2="862.7" y2="1556.3"/>
<line x1="736.7" y1="1329.8" x2="744.5" y2="1329.8"/>
<line x1="736.7" y1="1386.4" x2="744.5" y2="1386.4"/>
<line x1="736.7" y1="1443" x2="744.5" y2="1443"/>
<line x1="736.7" y1="1499.7" x2="744.5" y2="1499.7"/>
</g>
<g font-size="18.5" text-anchor="end">
<text x="733.7" y="1336.3">400</text><text x="733.7" y="1392.9">300</text><text x="733.7" y="1449.5">200</text><text x="733.7" y="1506.2">100</text><text x="733.7" y="1562.8">0</text>
</g>
<text transform="translate(689,1441) rotate(-90)" class="t" text-anchor="middle" textLength="222" lengthAdjust="spacingAndGlyphs">3-IAA concentration (ng/ml)</text>
<rect x="762" y="1506.7" width="28.7" height="49.6" fill="#e0261d"/>
<rect x="807.5" y="1514.7" width="29.4" height="41.6" fill="#e0261d"/>
<g class="eb">
<path d="M776.4,1502 V1511 M770,1502 H783"/>
<path d="M822.2,1511 V1518 M816,1511 H829"/>
</g>
<g fill="#000">
<circle cx="766.7" cy="1499.1" r="5.5"/><circle cx="776.9" cy="1502.9" r="5.5"/><circle cx="785.9" cy="1506" r="5.5"/><circle cx="766.7" cy="1514.2" r="5.5"/>
<polygon points="812.9,1514.5 807.4,1524.5 818.4,1524.5"/>
<polygon points="820.7,1503.2 815.2,1513.2 826.2,1513.2"/>
<polygon points="829.7,1507 824.2,1517 835.2,1517"/>
<polygon points="826.7,1512 821.2,1522 832.2,1522"/>
<circle cx="887.9" cy="1356.7" r="5.5"/>
<polygon points="887.9,1381 882.4,1392 893.4,1392"/>
</g>
<rect x="879.5" y="1407" width="18" height="15" fill="#e0261d"/>
<text class="t" x="913.7" y="1361">SD</text>
<text class="t" x="913.7" y="1392" textLength="76" lengthAdjust="spacingAndGlyphs">TRP high</text>
<text class="t" x="904.7" y="1421.5" textLength="117" lengthAdjust="spacingAndGlyphs">NR-Microbiota</text>

<!-- ===== Panel m ===== -->
<g class="ax">
<line x1="1186.5" y1="1328.3" x2="1186.5" y2="1555"/>
<line x1="1179.3" y1="1555" x2="1339.4" y2="1555"/>
<line x1="1178" y1="1328.3" x2="1186.5" y2="1328.3"/>
<line x1="1178" y1="1385" x2="1186.5" y2="1385"/>
<line x1="1178" y1="1441.7" x2="1186.5" y2="1441.7"/>
<line x1="1178" y1="1498.3" x2="1186.5" y2="1498.3"/>
</g>
<g font-size="18.5" text-anchor="end">
<text x="1176.3" y="1334.8">400</text><text x="1176.3" y="1391.5">300</text><text x="1176.3" y="1448.2">200</text><text x="1176.3" y="1504.8">100</text><text x="1176.3" y="1561.5">0</text>
</g>
<text transform="translate(1130,1431) rotate(-90)" class="t" text-anchor="middle" textLength="160" lengthAdjust="spacingAndGlyphs">Tumour weight (mg)</text>
<rect x="1204.5" y="1434.3" width="28.8" height="120.7" fill="#e0261d"/>
<rect x="1249.5" y="1457" width="28.8" height="98" fill="#e0261d"/>
<rect x="1295.7" y="1443.7" width="28.8" height="111.3" fill="#e0261d"/>
<g class="eb">
<path d="M1218.9,1425.5 V1443.7 M1211.5,1425.5 H1226.3 M1211.5,1443.7 H1226.3"/>
<path d="M1263.9,1447.5 V1466.4 M1256.5,1447.5 H1271.3 M1256.5,1466.4 H1271.3"/>
<path d="M1310.1,1436 V1451.7 M1302.7,1436 H1317.5 M1302.7,1451.7 H1317.5"/>
</g>
<g fill="none" stroke="#000" stroke-width="1.6">
<circle cx="1218.9" cy="1417.2" r="6"/><circle cx="1210.5" cy="1443.2" r="6"/><circle cx="1228.5" cy="1443.2" r="6"/>
<circle cx="1363.4" cy="1357.5" r="6"/>
</g>
<g fill="#000">
<circle cx="1263.9" cy="1429.1" r="6"/><circle cx="1263.9" cy="1458.3" r="6"/><circle cx="1254.3" cy="1467.6" r="6"/><circle cx="1271.1" cy="1467.6" r="6"/>
<polygon points="1309.4,1419.5 1303.9,1429.5 1314.9,1429.5"/>
<polygon points="1300.5,1433.1 1295,1443.1 1306,1443.1"/>
<polygon points="1318.4,1440.2 1312.9,1450.2 1323.9,1450.2"/>
<polygon points="1309.4,1457.8 1303.9,1467.8 1314.9,1467.8"/>
<circle cx="1363.4" cy="1388.2" r="6"/>
<polygon points="1363.4,1411 1357.9,1422 1368.9,1422"/>
</g>
<rect x="1357.4" y="1438.6" width="18" height="15.2" fill="#e0261d"/>
<text class="t" x="1390.4" y="1363" textLength="76" lengthAdjust="spacingAndGlyphs">untreated</text>
<text class="t" x="1390.4" y="1394" textLength="74" lengthAdjust="spacingAndGlyphs">FIRINOX</text>
<text class="t" x="1390.4" y="1423" textLength="168" lengthAdjust="spacingAndGlyphs">FIRINOX + TRP high</text>
<text class="t" x="1381.4" y="1453" textLength="117" lengthAdjust="spacingAndGlyphs">NR-Microbiota</text>
</svg>
</body></html>
